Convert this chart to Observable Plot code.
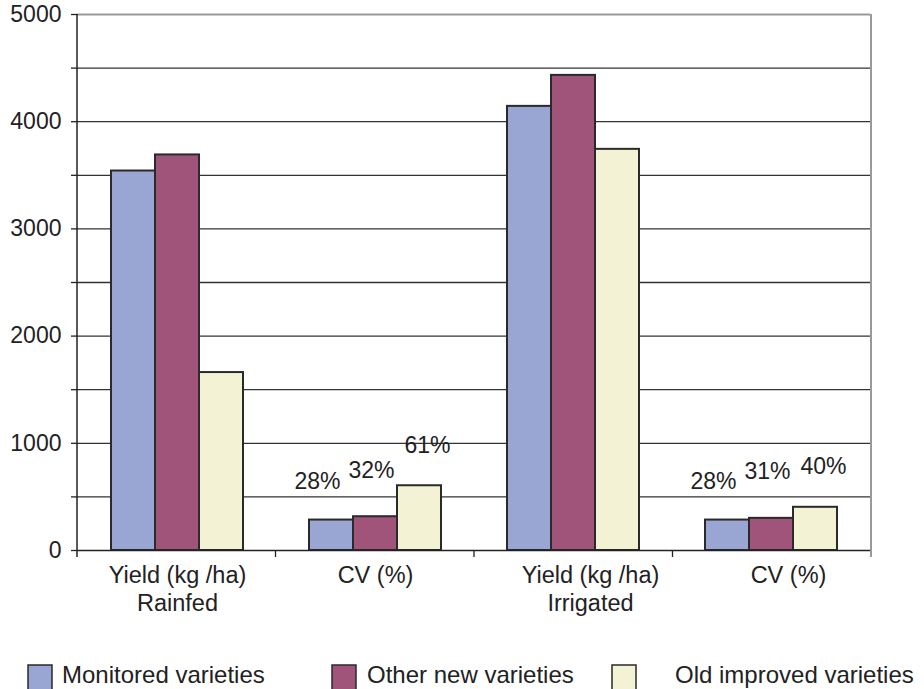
<!DOCTYPE html>
<html>
<head>
<meta charset="utf-8">
<script src="https://cdn.jsdelivr.net/npm/d3@7"></script>
<script src="https://cdn.jsdelivr.net/npm/@observablehq/plot@0.6"></script>
<style>
  html, body { margin: 0; padding: 0; background: #fff; }
  #chart { width: 924px; }
  svg { display: block; }
</style>
</head>
<body>
<div id="chart"></div>
<script>
// ---- data ----
const groups = ["Yield Rainfed", "CV Rainfed", "Yield Irrigated", "CV Irrigated"];
const groupLabels = ["Yield (kg /ha)\nRainfed", "CV (%)", "Yield (kg /ha)\nIrrigated", "CV (%)"];
const series = ["Monitored varieties", "Other new varieties", "Old improved varieties"];
const colors = ["#99a5d2", "#a0547a", "#f3f2d4"];
const yieldRainfed = [3540, 3690, 1660];
const cvRainfed = [284, 315, 604];
const cvRainfedLabels = ["28%", "32%", "61%"];
const yieldIrrigated = [4143, 4432, 3742];
const cvIrrigated = [284, 300, 403];
const cvIrrigatedLabels = ["28%", "31%", "40%"];
const yTicks = [0, 500, 1000, 1500, 2000, 2500, 3000, 3500, 4000, 4500, 5000];
const gridTicks = [500, 1000, 1500, 2000, 2500, 3000, 3500, 4000, 4500];

// ---- table ----
const data = [];
function add(group, values, labels) {
  series.forEach((s, i) => data.push({group, series: s, value: values[i], label: labels ? labels[i] : null}));
}
add(groups[0], yieldRainfed, null);
add(groups[1], cvRainfed, cvRainfedLabels);
add(groups[2], yieldIrrigated, null);
add(groups[3], cvIrrigated, cvIrrigatedLabels);
const labelOf = Object.fromEntries(groups.map((g, i) => [g, groupLabels[i]]));

const FONT = "'Liberation Sans', Arial, Helvetica, sans-serif";

// label offsets per series (style only)
const labelStyle = [{dx: -14, dy: -31}, {dx: -4, dy: -39}, {dx: 8, dy: -33}];
const labelMarks = series.map((s, i) =>
  Plot.text(data.filter(d => d.label && d.series === s), {fx: "group", x: "series", y: "value", text: "label",
    dx: labelStyle[i].dx, dy: labelStyle[i].dy, lineAnchor: "bottom", fontSize: 23, fill: "#222"}));

const chart = Plot.plot({
  width: 924,
  height: 640,
  marginLeft: 77,
  marginRight: 53,
  marginTop: 14,
  marginBottom: 90,
  style: {fontFamily: FONT, fontSize: "22px", color: "#222", background: "#fff"},
  fx: {domain: groups, padding: 0, label: null},
  x: {domain: series, axis: null, paddingInner: 0, paddingOuter: 0.75},
  y: {domain: [0, 5000], label: null},
  color: {domain: series, range: colors},
  marks: [
    Plot.gridY(gridTicks, {stroke: "#333", strokeOpacity: 1, strokeWidth: 1.3}),
    Plot.gridY([5000], {stroke: "#999", strokeOpacity: 1, strokeWidth: 2}),
    Plot.axisY(yTicks, {tickSize: 7, tickPadding: 10, stroke: "#222", strokeWidth: 1.3,
      tickFormat: d => d % 1000 === 0 ? String(d) : "", fontSize: 23, label: null, fill: "#222"}),
    Plot.axisFx({anchor: "bottom", ticks: [groups[0], groups[1]], tickSize: 0, tickPadding: 12, fontSize: 23.5, lineHeight: 1.2,
      tickFormat: d => labelOf[d], label: null, fill: "#222"}),
    Plot.axisFx({anchor: "bottom", ticks: [groups[2], groups[3]], tickSize: 0, tickPadding: 12, fontSize: 23.5, lineHeight: 1.2, dx: 17,
      tickFormat: d => labelOf[d], label: null, fill: "#222"}),
    Plot.barY(data, {fx: "group", x: "series", y: "value", fill: "series", stroke: "#2a2a2a", strokeWidth: 2}),
    ...labelMarks,
    Plot.ruleY([0], {stroke: "#222", strokeWidth: 1.5})
  ]
});
document.getElementById("chart").appendChild(chart);

// ---- frame lines: left axis line, right border, group boundary ticks ----
(function () {
  const svg = chart.tagName.toLowerCase() === "svg" ? chart : chart.querySelector("svg");
  const fxS = chart.scale("fx"), yS = chart.scale("y");
  const fx = d3.scaleBand(fxS.domain, fxS.range).paddingInner(fxS.paddingInner || 0).paddingOuter(fxS.paddingOuter || 0);
  const y = d3.scaleLinear(yS.domain, yS.range);
  const left = fx(fx.domain()[0]);
  const right = fx(fx.domain()[fx.domain().length - 1]) + fx.bandwidth();
  const g = d3.select(svg).append("g");
  g.append("line").attr("x1", right).attr("x2", right).attr("y1", y(5000)).attr("y2", y(0) + 7)
    .attr("stroke", "#999").attr("stroke-width", 2);
  g.append("line").attr("x1", left).attr("x2", left).attr("y1", y(5000)).attr("y2", y(0) + 7)
    .attr("stroke", "#222").attr("stroke-width", 1.5);
  const bounds = fx.domain().map(d => fx(d)).slice(1);
  g.selectAll("line.b").data(bounds).join("line")
    .attr("x1", d => d).attr("x2", d => d).attr("y1", y(0)).attr("y2", y(0) + 7)
    .attr("stroke", "#222").attr("stroke-width", 1.3);
})();

// ---- legend ----
(function () {
  const pos = [{r: 28, t: 62}, {r: 332, t: 367}, {r: 612, t: 675}];
  const leg = d3.select("body").append("svg").attr("width", 924).attr("height", 49)
    .style("font-family", FONT).style("font-size", "24px");
  series.forEach((s, i) => {
    leg.append("rect").attr("x", pos[i].r).attr("y", 25).attr("width", 24).attr("height", 26)
      .attr("fill", colors[i]).attr("stroke", "#2a2a2a").attr("stroke-width", 1.5);
    leg.append("text").attr("x", pos[i].t).attr("y", 43).attr("fill", "#222").text(s);
  });
})();
</script>
</body>
</html>
